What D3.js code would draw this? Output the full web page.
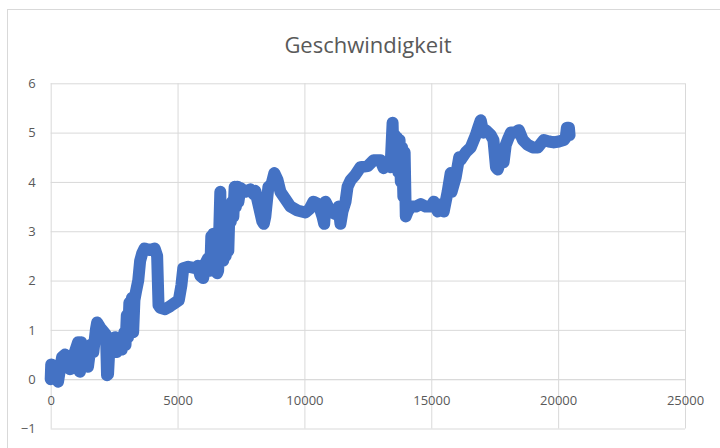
<!DOCTYPE html>
<html>
<head>
<meta charset="utf-8">
<script src="https://cdn.jsdelivr.net/npm/d3@7"></script>
<style>
html,body{margin:0;padding:0;background:#fff;}
svg{display:block;}
</style>
</head>
<body>
<svg id="chart" width="720" height="448"></svg>
<script>
const title = "Geschwindigkeit";
const xTicks = [0, 5000, 10000, 15000, 20000, 25000];
const yTicks = [-1, 0, 1, 2, 3, 4, 5, 6];
const xValues = [0,20,80,170,290,350,450,565,680,760,840,950,1080,1155,1200,1315,1470,1580,1680,1780,1830,1945,2100,2180,2220,2260,2300,2450,2540,2600,2700,2800,2900,2950,3000,3050,3100,3150,3200,3250,3300,3370,3450,3525,3605,3700,3900,4100,4195,4250,4315,4510,4710,4905,5050,5150,5225,5420,5700,5800,5895,6010,6100,6200,6290,6330,6370,6410,6450,6500,6560,6600,6685,6720,6760,6800,6850,6900,6950,7000,7050,7100,7150,7200,7250,7300,7355,7400,7475,7670,7870,8000,8065,8185,8340,8400,8460,8580,8700,8815,8935,9055,9250,9450,9725,10040,10200,10355,10555,10710,10780,10830,11025,11225,11350,11420,11500,11620,11700,11815,12015,12210,12490,12725,13000,13120,13280,13395,13475,13520,13560,13600,13650,13700,13750,13800,13850,13900,13950,13995,14070,14190,14390,14585,14780,14980,15100,15255,15400,15490,15645,15765,15800,15965,16100,16160,16360,16555,16755,16850,16950,17050,17150,17345,17450,17550,17620,17740,17850,17935,18050,18135,18290,18450,18610,18805,19000,19200,19435,19635,19830,20030,20225,20300,20345,20425,20450];
const speedValues = [0,0.3,0.1,0.2,-0.05,0.15,0.45,0.5,0.3,0.2,0.25,0.55,0.75,0.15,0.75,0.35,0.25,0.7,0.55,1.0,1.15,1.05,0.95,0.9,0.08,0.1,0.5,0.6,0.85,0.55,0.8,0.6,0.95,0.7,1.3,0.85,1.55,1.1,1.65,0.95,1.6,1.8,2.0,2.4,2.55,2.65,2.62,2.65,2.5,1.5,1.45,1.42,1.48,1.55,1.6,1.9,2.25,2.28,2.25,2.3,2.1,2.05,2.35,2.45,2.2,2.9,2.3,2.95,2.25,2.9,2.15,2.2,3.8,2.4,3.5,2.4,3.45,2.5,3.5,2.6,3.5,3.2,3.6,3.3,3.9,3.5,3.9,3.6,3.88,3.8,3.85,3.75,3.82,3.55,3.2,3.15,3.3,3.9,3.95,4.18,4.05,3.8,3.65,3.5,3.42,3.38,3.45,3.6,3.55,3.3,3.15,3.6,3.4,3.35,3.5,3.15,3.4,3.6,3.9,4.03,4.15,4.3,4.32,4.44,4.44,4.28,4.4,4.3,5.2,4.3,4.95,4.3,4.9,4.2,4.85,4.0,4.7,3.7,4.6,3.3,3.4,3.5,3.5,3.55,3.5,3.5,3.6,3.4,3.55,3.4,3.8,4.18,3.8,4.1,4.5,4.45,4.6,4.7,4.95,5.1,5.25,5.0,5.05,4.95,4.85,4.3,4.25,4.45,4.4,4.75,4.9,5.0,5.0,5.05,4.85,4.75,4.7,4.7,4.85,4.82,4.8,4.82,4.85,4.9,5.1,5.1,4.95];

const data = xValues.map((x, i) => ({x: x, y: speedValues[i]}));

const svg = d3.select("#chart");
const gray = "#595959";
const grid = "#d9d9d9";
const font = "'Open Sans', 'Liberation Sans', sans-serif";

// chart border
svg.append("rect")
  .attr("x", 7.5).attr("y", 9.5)
  .attr("width", 740).attr("height", 460)
  .attr("fill", "#fff").attr("stroke", grid).attr("stroke-width", 1);

const x = d3.scaleLinear().domain([0, 25000]).range([50.7, 685]);
const y = d3.scaleLinear().domain([-1, 6]).range([428.5, 83.3]);

// gridlines (horizontal)
svg.append("g")
  .attr("transform", `translate(${x(0)},0)`)
  .call(d3.axisLeft(y).tickValues(yTicks).tickSize(-(x(25000) - x(0))).tickFormat(""))
  .call(g => g.select(".domain").remove())
  .call(g => g.selectAll("line").attr("stroke", grid).attr("stroke-width", 1));

// gridlines (vertical)
svg.append("g")
  .attr("transform", `translate(0,${y(-1)})`)
  .call(d3.axisBottom(x).tickValues(xTicks).tickSize(-(y(-1) - y(6))).tickFormat(""))
  .call(g => g.select(".domain").remove())
  .call(g => g.selectAll("line").attr("stroke", grid).attr("stroke-width", 1));

// y labels
svg.append("g")
  .attr("transform", `translate(${x(0) - 9},0)`)
  .call(d3.axisLeft(y).tickValues(yTicks).tickSize(0).tickPadding(6).tickFormat(d3.format("d")))
  .call(g => g.select(".domain").remove())
  .call(g => g.selectAll("text").attr("fill", gray).attr("font-size", 13).attr("font-family", font));

// x axis at y=0, labels below
svg.append("g")
  .attr("transform", `translate(0,${y(0)})`)
  .call(d3.axisBottom(x).tickValues(xTicks).tickSize(0).tickPadding(17).tickFormat(d3.format("d")))
  .call(g => g.select(".domain").attr("stroke", grid))
  .call(g => g.selectAll("text").attr("fill", gray).attr("font-size", 13).attr("font-family", font));

// series
const line = d3.line().x(d => x(d.x)).y(d => y(d.y));
svg.append("path")
  .datum(data)
  .attr("d", line)
  .attr("fill", "none")
  .attr("stroke", "#4472C4")
  .attr("stroke-width", 12)
  .attr("stroke-linejoin", "round")
  .attr("stroke-linecap", "round");

// title
svg.append("text")
  .attr("x", 368).attr("y", 53)
  .attr("text-anchor", "middle")
  .attr("fill", gray)
  .attr("font-size", 22)
  .attr("font-family", font)
  .text(title);
</script>
</body>
</html>
